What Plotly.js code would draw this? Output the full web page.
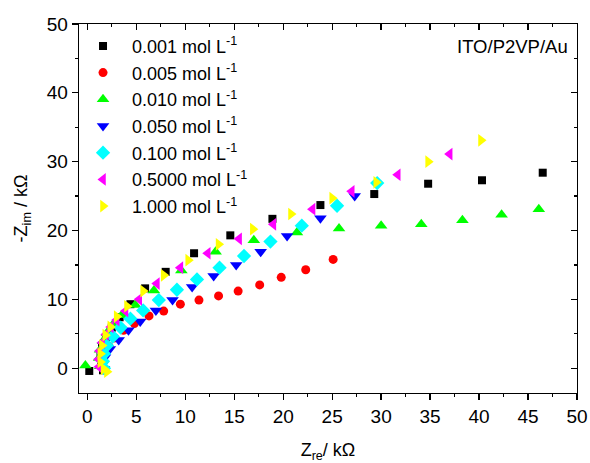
<!DOCTYPE html>
<html>
<head>
<meta charset="utf-8">
<script src="https://cdn.plot.ly/plotly-3.0.1.min.js"></script>
<style>html,body{margin:0;padding:0;background:#fff;}#chart{width:590px;height:463px;}</style>
</head>
<body>
<div id="chart"></div>
<script>
// Series names
const seriesNames = ["0.001 mol L<sup>-1</sup>", "0.005 mol L<sup>-1</sup>", "0.010 mol L<sup>-1</sup>",
  "0.050 mol L<sup>-1</sup>", "0.100 mol L<sup>-1</sup>", "0.5000 mol L<sup>-1</sup>", "1.000 mol L<sup>-1</sup>"];

// 0.001 mol/L (black squares)
const zre_001 = [0.2, 1.6, 1.4, 1.35, 1.5, 1.9, 2.5, 3.3, 4.4, 5.9, 8.0, 10.9, 14.6, 18.9, 23.8, 29.3, 34.8, 40.3, 46.5];
const zim_001 = [-0.4, -0.3, 0.6, 1.8, 3.1, 4.5, 5.9, 7.4, 9.3, 11.6, 14.0, 16.7, 19.3, 21.7, 23.7, 25.3, 26.8, 27.3, 28.4];

// 0.005 mol/L (red circles)
const zre_005 = [1.6, 1.6, 1.8, 2.2, 2.8, 3.7, 4.8, 6.3, 7.8, 9.5, 11.4, 13.4, 15.4, 17.6, 19.8, 22.3, 25.1];
const zim_005 = [0.0, 1.0, 2.1, 3.2, 4.4, 5.5, 6.5, 7.6, 8.3, 9.3, 9.9, 10.5, 11.2, 12.1, 13.2, 14.3, 15.8];

// 0.010 mol/L (green up-triangles)
const zre_010 = [-0.2, 1.3, 1.2, 1.3, 1.6, 2.0, 2.6, 3.5, 4.9, 6.8, 9.6, 13.1, 17.0, 21.4, 25.7, 30.0, 34.1, 38.3, 42.3, 46.1];
const zim_010 = [0.4, 0.3, 1.5, 2.7, 3.9, 5.1, 6.3, 7.7, 9.2, 11.3, 14.2, 16.9, 18.6, 19.7, 20.3, 20.7, 20.9, 21.5, 22.3, 23.1];

// 0.050 mol/L (blue down-triangles)
const zre_050 = [1.7, 1.6, 1.8, 2.3, 3.2, 4.2, 5.4, 7.0, 8.7, 10.7, 12.9, 15.2, 17.7, 20.4, 23.8, 27.3];
const zim_050 = [-0.1, 0.6, 1.6, 2.8, 4.1, 5.5, 6.8, 8.4, 9.9, 11.8, 13.4, 15.0, 16.9, 19.2, 21.8, 25.0];

// 0.100 mol/L (cyan diamonds)
const zre_100 = [1.7, 1.6, 1.7, 2.0, 2.6, 3.4, 4.4, 5.7, 7.3, 9.15, 11.2, 13.5, 16.0, 18.7, 21.9, 25.5, 29.6];
const zim_100 = [0.0, 1.0, 2.1, 3.3, 4.6, 5.9, 7.2, 8.4, 9.9, 11.4, 12.9, 14.6, 16.3, 18.4, 20.7, 23.6, 26.9];

// 0.5000 mol/L (magenta left-triangles)
const zre_500 = [1.2, 1.15, 1.25, 1.5, 1.9, 2.4, 3.0, 3.9, 5.3, 7.1, 9.5, 12.3, 15.5, 19.0, 23.0, 27.0, 31.7, 37.0];
const zim_500 = [0.2, 1.3, 2.5, 3.7, 4.9, 6.0, 7.0, 8.3, 10.0, 12.3, 14.6, 16.7, 18.8, 20.9, 23.1, 25.7, 28.1, 31.1];

// 1.000 mol/L (yellow right-triangles)
const zre_1000 = [2.0, 1.66, 1.33, 1.33, 1.5, 1.84, 2.35, 3.0, 4.05, 5.7, 7.8, 10.3, 13.4, 16.9, 20.8, 25.0, 29.5, 34.8, 40.2];
const zim_1000 = [-0.5, -0.1, 0.9, 2.1, 3.3, 4.8, 6.0, 7.5, 9.0, 11.2, 13.5, 15.7, 18.0, 20.2, 22.4, 24.7, 27.0, 30.0, 33.1];

const xTickVals = [0, 5, 10, 15, 20, 25, 30, 35, 40, 45, 50];
const yTickVals = [0, 10, 20, 30, 40, 50];

const FONT = "Arial, 'Liberation Sans', sans-serif";
const styles = [
  {symbol: "square", color: "#000000", size: 8},
  {symbol: "circle", color: "#ff0000", size: 9},
  {symbol: "triangle-up", color: "#00ff00", size: 11},
  {symbol: "triangle-down", color: "#0000ff", size: 11},
  {symbol: "diamond", color: "#00ffff", size: 11},
  {symbol: "triangle-left", color: "#ff00ff", size: 11},
  {symbol: "triangle-right", color: "#ffff00", size: 11}
];
const xs = [zre_001, zre_005, zre_010, zre_050, zre_100, zre_500, zre_1000];
const ys = [zim_001, zim_005, zim_010, zim_050, zim_100, zim_500, zim_1000];

const traces = xs.map((x, i) => ({
  type: "scatter", mode: "markers", x: x, y: ys[i], name: seriesNames[i],
  legendgroup: "g" + i,
  marker: {symbol: styles[i].symbol, color: styles[i].color, size: styles[i].size, line: {width: 0}},
  xaxis: "x", yaxis: "y"
}));

const xr = [-0.85, 50];
const yr = [-3.6, 50];

const layout = {
  width: 590, height: 463,
  margin: {l: 79, r: 13, t: 24, b: 70},
  paper_bgcolor: "#fff", plot_bgcolor: "#fff",
  font: {family: FONT, color: "#000"},
  showlegend: true,
  legend: {
    x: -0.01, xanchor: "left", y: 0.99, yanchor: "top",
    bgcolor: "rgba(0,0,0,0)", borderwidth: 0,
    font: {family: FONT, size: 18, color: "#000"},
    itemwidth: 48, tracegroupgap: 0.3
  },
  xaxis: {
    range: xr, showgrid: false, zeroline: false,
    showline: true, linecolor: "#000", linewidth: 1.3,
    ticks: "outside", ticklen: 6, tickwidth: 1.3, tickcolor: "#000",
    tickvals: xTickVals, ticktext: xTickVals.map(String),
    tickfont: {family: FONT, size: 19, color: "#000"},
    minor: {dtick: 2.5, tick0: 0, ticks: "outside", ticklen: 3, tickwidth: 1.3, tickcolor: "#000"},
    title: {text: "Z<sub>re</sub>/ kΩ", font: {family: FONT, size: 18, color: "#000"}, standoff: 18},
    anchor: "y"
  },
  yaxis: {
    range: yr, showgrid: false, zeroline: false,
    showline: true, linecolor: "#000", linewidth: 1.3,
    ticks: "outside", ticklen: 6, tickwidth: 1.3, tickcolor: "#000",
    tickvals: yTickVals, ticktext: yTickVals.map(String),
    tickfont: {family: FONT, size: 19, color: "#000"},
    minor: {dtick: 5, tick0: 0, ticks: "outside", ticklen: 3, tickwidth: 1.3, tickcolor: "#000"},
    title: {text: "-Z<sub>im</sub> / kΩ", font: {family: FONT, size: 18, color: "#000"}, standoff: 14},
    anchor: "x"
  },
  xaxis2: {
    overlaying: "x", side: "top", anchor: "y", range: xr, matches: "x",
    showgrid: false, zeroline: false, showline: true, linecolor: "#000", linewidth: 1.3,
    ticks: "inside", ticklen: 6, tickwidth: 1.3, tickcolor: "#000", showticklabels: false,
    tickvals: xTickVals,
    minor: {dtick: 2.5, tick0: 0, ticks: "inside", ticklen: 3, tickwidth: 1.3, tickcolor: "#000"}
  },
  yaxis2: {
    overlaying: "y", side: "right", anchor: "x", range: yr, matches: "y",
    showgrid: false, zeroline: false, showline: true, linecolor: "#000", linewidth: 1.3,
    ticks: "inside", ticklen: 6, tickwidth: 1.3, tickcolor: "#000", showticklabels: false,
    tickvals: yTickVals,
    minor: {dtick: 5, tick0: 0, ticks: "inside", ticklen: 3, tickwidth: 1.3, tickcolor: "#000"}
  },
  annotations: [{
    text: "ITO/P2VP/Au", xref: "paper", yref: "paper", x: 0.985, y: 0.938,
    xanchor: "right", yanchor: "middle", showarrow: false,
    font: {family: FONT, size: 18.5, color: "#000"}
  }]
};

traces.push({type: "scatter", mode: "markers", x: [], y: [], xaxis: "x2", yaxis: "y2", showlegend: false, hoverinfo: "skip"});

Plotly.newPlot("chart", traces, layout, {displayModeBar: false, staticPlot: true});
</script>
</body>
</html>
